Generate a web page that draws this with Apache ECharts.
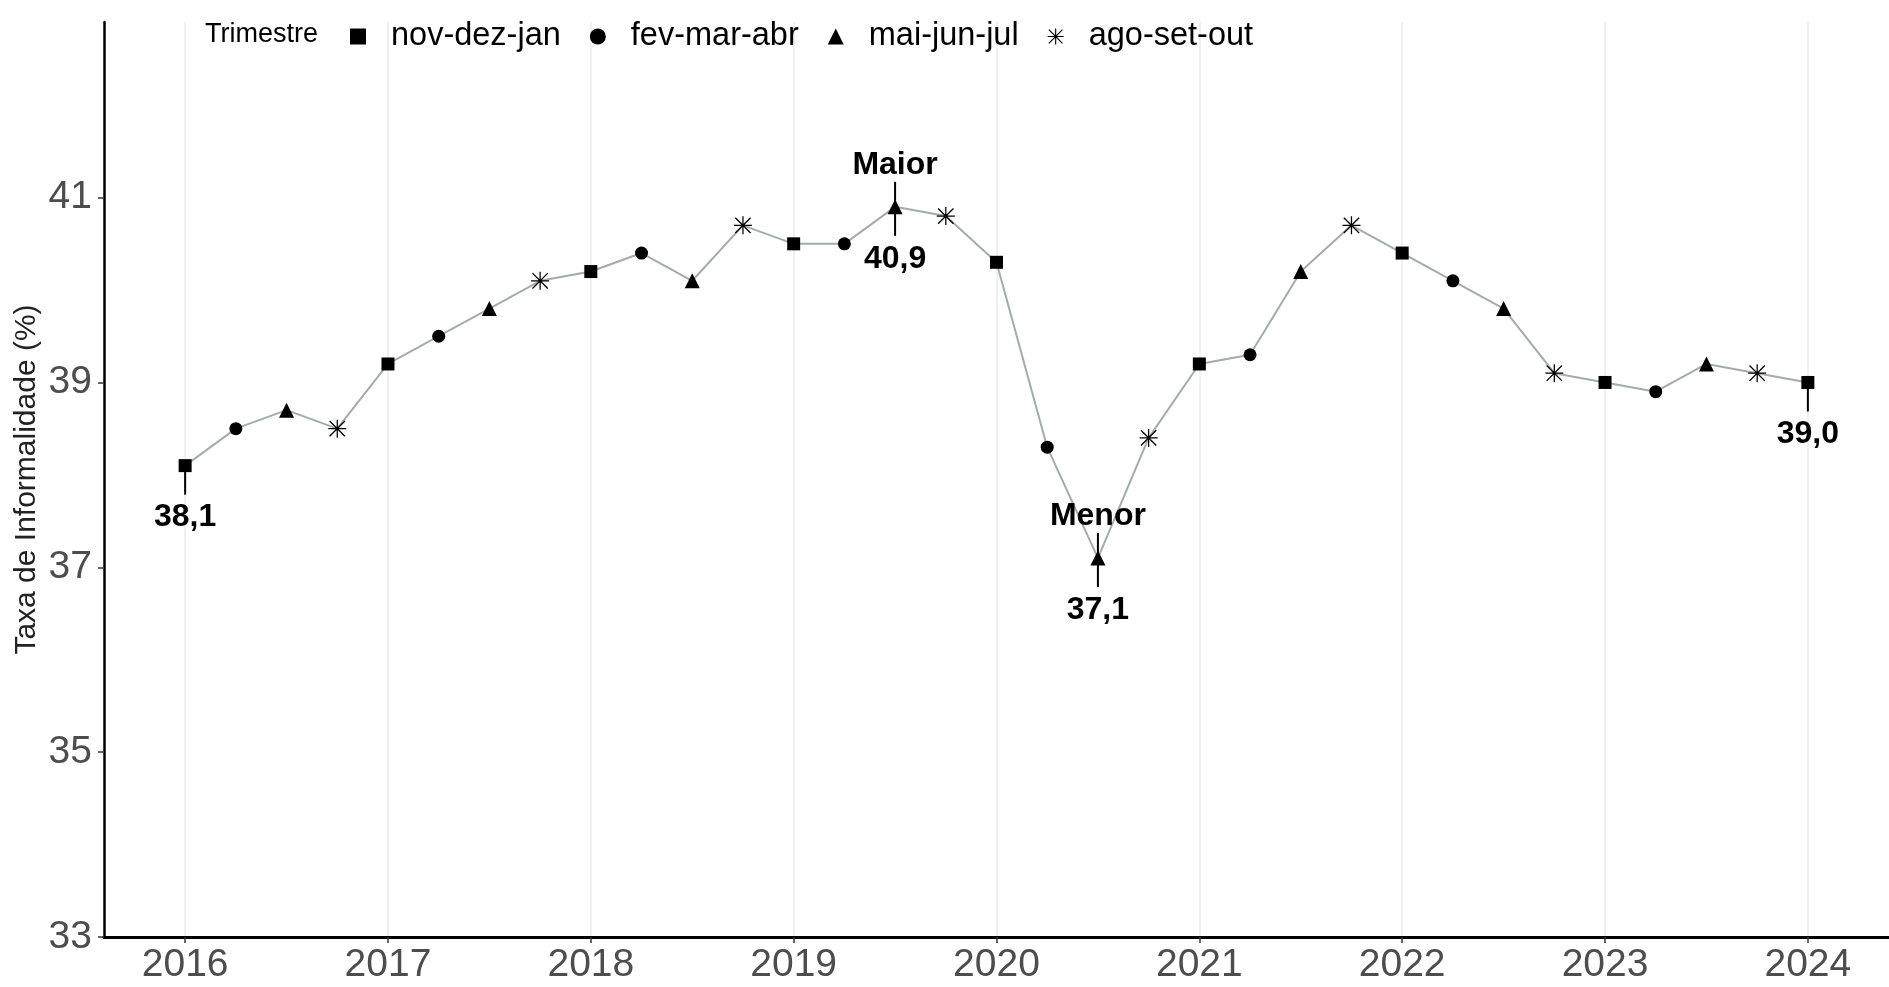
<!DOCTYPE html>
<html>
<head>
<meta charset="utf-8">
<script src="https://cdn.jsdelivr.net/npm/echarts@6/dist/echarts.min.js"></script>
<style>
html,body{margin:0;padding:0;background:#fff;}
#chart{width:1889px;height:987px;}
</style>
</head>
<body>
<div id="chart"></div>
<script>
// ---- data ----
const startYear = 2016;
const trimestres = ['nov-dez-jan', 'fev-mar-abr', 'mai-jun-jul', 'ago-set-out'];
const taxa = [
  38.1, 38.5, 38.7, 38.5,
  39.2, 39.5, 39.8, 40.1,
  40.2, 40.4, 40.1, 40.7,
  40.5, 40.5, 40.9, 40.8,
  40.3, 38.3, 37.1, 38.4,
  39.2, 39.3, 40.2, 40.7,
  40.4, 40.1, 39.8, 39.1,
  39.0, 38.9, 39.2, 39.1,
  39.0
];
const xTicks = [2016, 2017, 2018, 2019, 2020, 2021, 2022, 2023, 2024];
const yTicks = [33, 35, 37, 39, 41];
const destaqueIdx = [0, 14, 18, 32];
const destaqueTopo = ['', 'Maior', 'Menor', ''];

// ---- build ----
const FONT = "'Liberation Sans', Arial, sans-serif";
const xOf = i => startYear + i * 0.25;
const points = taxa.map((v, i) => [xOf(i), v, i % 4]);
const asterisk = 'path://M9.3 0h1.4v20h-1.4Z M0 9.3h20v1.4h-20Z M2 1L19 18L18 19L1 2Z M18 1L19 2L2 19L1 18Z';
const symbols = ['rect', 'circle', 'triangle', asterisk];
const sizes = [13, 13, 15, 18];

const scatterSeries = trimestres.map((name, k) => ({
  name: name,
  type: 'scatter',
  symbol: symbols[k],
  symbolSize: sizes[k],
  itemStyle: { color: '#000', opacity: 1 },
  z: 4,
  data: points.filter(p => p[2] === k).map(p => [p[0], p[1]])
}));

const fmt = v => v.toFixed(1).replace('.', ',');

const chart = echarts.init(document.getElementById('chart'));
chart.setOption({
  animation: false,
  backgroundColor: '#fff',
  textStyle: { fontFamily: FONT },
  grid: { left: 104, right: 0, top: 22, bottom: 50, containLabel: false, outerBoundsMode: 'none' },
  graphic: [{
    type: 'text', left: 205, top: 21,
    style: { text: 'Trimestre', fontSize: 27, fontFamily: FONT, fill: '#000' }
  }],
  legend: {
    left: 345, top: 15,
    itemWidth: 16, itemHeight: 16, itemGap: 29,
    textStyle: { fontSize: 32.5, color: '#000', fontFamily: FONT, padding: [0, 0, 0, 20] },
    data: trimestres.map((n, k) => ({ name: n, icon: symbols[k], itemStyle: { color: '#000', opacity: 1 } }))
  },
  xAxis: {
    type: 'value', min: 2015.6, max: 2024.4,
    axisLine: { show: true, onZero: false, lineStyle: { color: '#000', width: 3 } },
    axisTick: { show: true, customValues: xTicks, length: 6, lineStyle: { color: '#333', width: 1.5 } },
    axisLabel: { customValues: xTicks, fontSize: 39, color: '#4d4d4d', margin: 9, fontFamily: FONT,
                 formatter: v => String(v) },
    splitLine: { show: false }
  },
  yAxis: {
    type: 'value', min: 33, max: 42.9,
    name: 'Taxa de Informalidade (%)', nameLocation: 'middle', nameGap: 62, nameRotate: 90,
    nameMoveOverlap: false,
    nameTextStyle: { fontSize: 30, color: '#222', fontFamily: FONT },
    axisLine: { show: true, onZero: false, lineStyle: { color: '#000', width: 2.5 } },
    axisTick: { show: true, customValues: yTicks, length: 6, lineStyle: { color: '#333', width: 1.5 } },
    axisLabel: { customValues: yTicks, fontSize: 39, color: '#4d4d4d', margin: 12, fontFamily: FONT,
                 formatter: v => String(v) },
    splitLine: { show: false }
  },
  series: [
    {
      name: 'grade', type: 'line', data: [], z: 0, silent: true,
      markLine: {
        z: 0, silent: true, symbol: ['none', 'none'], label: { show: false },
        lineStyle: { color: '#ebebeb', type: 'solid', width: 1.5 },
        data: xTicks.map(v => ({ xAxis: v }))
      }
    },
    {
      name: 'taxa', type: 'line', symbol: 'none', z: 2,
      lineStyle: { color: '#a3acaa', width: 2 },
      data: points.map(p => [p[0], p[1]])
    },
    ...scatterSeries,
    {
      name: 'destaques', type: 'custom', z: 5, silent: true,
      data: destaqueIdx.map(i => [xOf(i), taxa[i]]),
      renderItem: function (params, api) {
        const pt = api.coord([api.value(0), api.value(1)]);
        const top = destaqueTopo[params.dataIndex];
        const children = [];
        children.push({
          type: 'line',
          shape: { x1: pt[0], y1: pt[1] + (top ? -25 : 0), x2: pt[0], y2: pt[1] + 29 },
          style: { stroke: '#000', lineWidth: 2 }
        });
        children.push({
          type: 'text',
          style: { text: fmt(api.value(1)), x: pt[0], y: pt[1] + 52, align: 'center', verticalAlign: 'middle',
                   fontSize: 32, fontWeight: 'bold', fontFamily: FONT, fill: '#000' }
        });
        if (top) {
          children.push({
            type: 'text',
            style: { text: top, x: pt[0], y: pt[1] - 42, align: 'center', verticalAlign: 'middle',
                     fontSize: 32, fontWeight: 'bold', fontFamily: FONT, fill: '#000' }
          });
        }
        return { type: 'group', children: children };
      }
    }
  ]
});
</script>
</body>
</html>
